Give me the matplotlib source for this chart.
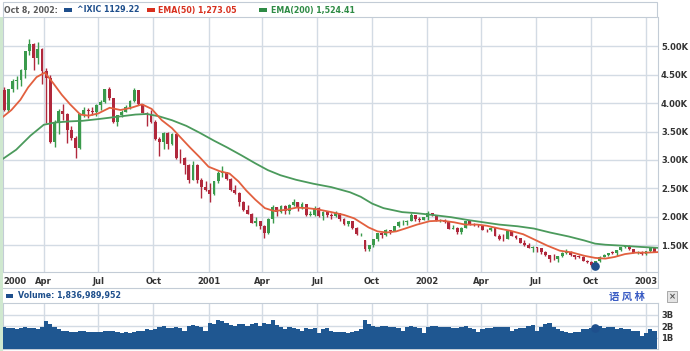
import matplotlib
matplotlib.use("Agg")
import matplotlib.pyplot as plt
import matplotlib.dates as mdates
import pandas as pd
from matplotlib.patches import Rectangle
from matplotlib.lines import Line2D

# ---------------- data (weekly, week ending Friday, starting 2000-01-28) ----------------
week_open = [
    4235, 3887, 4244, 4395, 4411, 4590, 4914, 5048, 4798, 4963, 4573, 4446, 3321, 3643, 3860, 3817, 3529, 3390, 3205, 3813,
    3874, 3860, 3845, 3966, 4023, 4246, 4095, 3663, 3787, 3851, 3930, 4042, 4234, 3979, 3835, 3803, 3673, 3361, 3316, 3483,
    3278, 3451, 3028, 3027, 2904, 2645, 2917, 2653, 2518,
    2471, 2407, 2626, 2770, 2781, 2660, 2470, 2425, 2262, 2117, 2052, 1891, 1928, 1840, 1720, 1961, 2163, 2075, 2192, 2107,
    2199, 2251, 2149, 2215, 2028, 2034, 2161, 2004, 2084, 2029, 2015, 2066, 1956, 1867, 1916, 1805, 1687, 1580, 1423, 1499,
    1605, 1703, 1671, 1768, 1746, 1828, 1898, 1903, 1930, 2021, 1953, 1945,
    1987, 2059, 2022, 1930, 1937, 1911, 1782, 1805, 1724, 1802, 1929, 1868, 1852, 1845, 1770, 1756, 1796, 1663, 1613, 1600,
    1741, 1661, 1615, 1535, 1504, 1441, 1463, 1448, 1373, 1319, 1262, 1247, 1306, 1362, 1380, 1315, 1295, 1291, 1221, 1199,
    1139, 1210, 1287, 1331, 1361, 1359, 1411, 1468, 1479, 1422, 1362, 1363,
    1348, 1387, 1448]
week_high = [
    4290, 4250, 4430, 4480, 4600, 4920, 5132, 5060, 5080, 4970, 4620, 4490, 3700, 3900, 3980, 3830, 3600, 3420, 3830, 3930,
    3920, 3940, 3990, 4050, 4250, 4290, 4100, 3800, 3880, 3960, 4060, 4260, 4240, 3990, 3850, 3880, 3700, 3400, 3500, 3500,
    3480, 3460, 3200, 3050, 2920, 2980, 2930, 2680, 2620,
    2600, 2630, 2800, 2892, 2790, 2690, 2560, 2430, 2270, 2200, 2060, 1990, 1930, 1850, 1970, 2200, 2170, 2200, 2200, 2220,
    2313, 2260, 2260, 2220, 2100, 2180, 2170, 2100, 2100, 2060, 2100, 2070, 1970, 1920, 1920, 1820, 1710, 1580, 1500, 1610,
    1710, 1720, 1780, 1770, 1840, 1920, 1940, 1940, 2060, 2030, 1990, 2000,
    2098, 2070, 2030, 1960, 1960, 1915, 1860, 1810, 1810, 1930, 1930, 1890, 1870, 1850, 1790, 1810, 1800, 1700, 1700, 1750,
    1750, 1670, 1620, 1580, 1530, 1480, 1470, 1450, 1400, 1320, 1340, 1310, 1370, 1426, 1390, 1330, 1330, 1300, 1240, 1220,
    1220, 1300, 1340, 1365, 1400, 1420, 1470, 1490, 1492, 1430, 1400, 1390,
    1400, 1450, 1450]
week_low = [
    3870, 3850, 4200, 4250, 4300, 4450, 4850, 4580, 4700, 4340, 3650, 3300, 3227, 3450, 3700, 3300, 3350, 3042, 3200, 3750,
    3740, 3800, 3780, 3880, 4000, 4050, 3650, 3600, 3750, 3840, 3900, 4030, 3970, 3820, 3600, 3650, 3350, 3070, 3200, 3190,
    3260, 3020, 2950, 2750, 2600, 2640, 2600, 2330, 2460,
    2250, 2380, 2600, 2700, 2640, 2460, 2400, 2180, 2100, 2040, 1880, 1830, 1780, 1619, 1700, 1880, 2020, 2060, 2050, 2040,
    2180, 2100, 2140, 2010, 2010, 2020, 2000, 1940, 1990, 1960, 2000, 1930, 1860, 1830, 1790, 1680, 1660, 1387, 1400, 1460,
    1570, 1630, 1650, 1700, 1740, 1820, 1850, 1850, 1920, 1930, 1900, 1940,
    1940, 2010, 1920, 1900, 1880, 1780, 1780, 1700, 1700, 1800, 1850, 1840, 1810, 1760, 1730, 1740, 1660, 1590, 1570, 1600,
    1650, 1600, 1530, 1480, 1440, 1375, 1380, 1340, 1310, 1192, 1240, 1200, 1280, 1350, 1310, 1260, 1270, 1220, 1180, 1135,
    1108, 1200, 1280, 1300, 1340, 1310, 1400, 1440, 1410, 1360, 1350, 1330,
    1320, 1380, 1370]
week_close = [
    3887, 4244, 4395, 4411, 4590, 4914, 5048, 4798, 4963, 4573, 4446, 3321, 3643, 3860, 3817, 3529, 3390, 3205, 3813, 3874,
    3860, 3845, 3966, 4023, 4246, 4095, 3663, 3787, 3851, 3930, 4042, 4234, 3979, 3835, 3803, 3673, 3361, 3316, 3483, 3278,
    3451, 3028, 3027, 2904, 2645, 2917, 2653, 2518, 2471,
    2407, 2626, 2770, 2781, 2660, 2470, 2425, 2262, 2117, 2052, 1891, 1928, 1840, 1720, 1961, 2163, 2075, 2192, 2107, 2199,
    2251, 2149, 2215, 2028, 2034, 2161, 2004, 2084, 2029, 2015, 2066, 1956, 1867, 1916, 1805, 1687, 1695, 1423, 1499, 1605,
    1703, 1671, 1768, 1746, 1828, 1898, 1903, 1930, 2021, 1953, 1945, 1987,
    2059, 2022, 1930, 1937, 1911, 1782, 1805, 1724, 1802, 1929, 1868, 1852, 1845, 1770, 1756, 1796, 1663, 1613, 1600, 1741,
    1661, 1615, 1535, 1504, 1441, 1463, 1448, 1373, 1319, 1262, 1247, 1306, 1362, 1380, 1315, 1295, 1291, 1221, 1199, 1139,
    1210, 1287, 1331, 1361, 1359, 1411, 1468, 1479, 1422, 1362, 1363, 1348,
    1387, 1448, 1376]
week_volume_b = [
    1.9, 1.8, 1.85, 1.75, 1.8, 1.9, 1.85, 1.8, 1.7, 1.9, 2.4, 2.2, 1.9, 1.7, 1.6, 1.55, 1.5, 1.45, 1.6, 1.55,
    1.5, 1.45, 1.5, 1.45, 1.55, 1.6, 1.55, 1.5, 1.4, 1.45, 1.4, 1.5, 1.55, 1.6, 1.7, 1.65, 1.7, 1.9, 2.0, 1.85,
    1.8, 1.9, 1.85, 1.6, 2.0, 2.1, 2.0, 1.9, 1.6,
    2.3, 2.2, 2.5, 2.4, 2.3, 2.1, 2.0, 2.2, 2.2, 2.0, 2.2, 2.3, 2.0, 2.3, 2.2, 2.5, 2.1, 1.9, 1.7, 1.9,
    1.8, 1.7, 1.6, 1.8, 1.7, 1.8, 1.4, 1.7, 1.8, 1.6, 1.5, 1.45, 1.5, 1.4, 1.5, 1.6, 1.7, 2.5, 2.2, 2.0,
    1.9, 2.0, 2.0, 1.9, 1.9, 1.8, 1.6, 1.9, 2.0, 1.9, 1.8, 1.4,
    1.9, 2.0, 2.0, 1.9, 1.9, 1.9, 1.8, 1.8, 1.9, 2.0, 1.8, 1.7, 1.5, 1.7, 1.8, 1.8, 1.9, 1.9, 1.9, 1.9,
    1.6, 1.7, 1.8, 1.8, 2.0, 2.1, 1.6, 1.9, 2.2, 2.3, 1.9, 1.7, 1.6, 1.5, 1.4, 1.5, 1.5, 1.7, 1.7, 1.8,
    2.0, 2.0, 1.8, 1.9, 1.9, 1.7, 1.8, 1.7, 1.7, 1.6, 1.6, 1.1,
    1.4, 1.7, 1.6]

ema50_dates = ["2000-01-24", "2000-02-07", "2000-02-22", "2000-03-06", "2000-03-20", "2000-04-03", "2000-04-17",
               "2000-05-01", "2000-05-15", "2000-06-01", "2000-06-15", "2000-07-01", "2000-07-20", "2000-08-07",
               "2000-08-25", "2000-09-12", "2000-09-28", "2000-10-15", "2000-11-01", "2000-11-15", "2000-12-01",
               "2000-12-17", "2001-01-01", "2001-01-20", "2001-02-05", "2001-02-20", "2001-03-05", "2001-03-20",
               "2001-04-05", "2001-04-20", "2001-05-10", "2001-05-28", "2001-06-15", "2001-07-01", "2001-07-25",
               "2001-08-15", "2001-09-01", "2001-09-25", "2001-10-10", "2001-10-25", "2001-11-10", "2001-11-25",
               "2001-12-15", "2002-01-05", "2002-01-25", "2002-02-15", "2002-03-05", "2002-03-25", "2002-04-10",
               "2002-05-01", "2002-05-20", "2002-06-10", "2002-06-28", "2002-07-20", "2002-08-10", "2002-08-30",
               "2002-09-20", "2002-10-08", "2002-10-25", "2002-11-10", "2002-11-27", "2002-12-15", "2003-01-01",
               "2003-01-21"]
ema50_vals = [3760, 3880, 4060, 4280, 4460, 4540, 4350, 4150, 3980, 3800, 3780, 3820, 3920, 3880, 3920, 3980, 3900,
              3700, 3560, 3400, 3220, 3050, 2880, 2800, 2760, 2620, 2460, 2300, 2150, 2100, 2120, 2160, 2150, 2130,
              2080, 2030, 1970, 1810, 1740, 1720, 1740, 1790, 1860, 1920, 1930, 1900, 1860, 1860, 1840, 1790, 1750,
              1690, 1600, 1490, 1400, 1370, 1310, 1273, 1260, 1290, 1340, 1365, 1365, 1375]

ema200_dates = ["2000-01-24", "2000-02-15", "2000-03-10", "2000-04-01", "2000-04-20", "2000-05-15", "2000-06-05",
                "2000-07-01", "2000-08-01", "2000-09-01", "2000-09-20", "2000-10-10", "2000-11-01", "2000-11-25",
                "2000-12-17", "2001-01-10", "2001-02-01", "2001-02-25", "2001-03-20", "2001-04-10", "2001-05-01",
                "2001-05-27", "2001-06-25", "2001-07-25", "2001-08-25", "2001-09-12", "2001-10-01", "2001-10-20",
                "2001-11-20", "2001-12-15", "2002-01-10", "2002-02-10", "2002-03-10", "2002-04-05", "2002-05-01",
                "2002-06-01", "2002-06-28", "2002-07-25", "2002-08-25", "2002-09-20", "2002-10-08", "2002-10-25",
                "2002-11-27", "2002-12-25", "2003-01-21"]
ema200_vals = [3020, 3180, 3430, 3620, 3660, 3680, 3690, 3720, 3760, 3800, 3810, 3770, 3700, 3600, 3480, 3340, 3220,
               3080, 2940, 2820, 2730, 2650, 2580, 2520, 2430, 2350, 2230, 2150, 2080, 2060, 2030, 1990, 1940, 1900,
               1860, 1830, 1790, 1720, 1650, 1580, 1524, 1505, 1485, 1465, 1450]

tick_dates = ["2000-04-01", "2000-07-01", "2000-10-01", "2001-01-01", "2001-04-01", "2001-07-01", "2001-10-01",
              "2002-01-01", "2002-04-01", "2002-07-01", "2002-10-01", "2003-01-01"]
tick_labels = ["Apr", "Jul", "Oct", "2001", "Apr", "Jul", "Oct", "2002", "Apr", "Jul", "Oct", "2003"]
price_ticks = [1500, 2000, 2500, 3000, 3500, 4000, 4500, 5000]
price_tick_labels = ["1.50K", "2.00K", "2.50K", "3.00K", "3.50K", "4.00K", "4.50K", "5.00K"]
vol_ticks = [1, 2, 3]
vol_tick_labels = ["1B", "2B", "3B"]

hover_date = "2002-10-08"
hover_close = 1129.22
hover_volume_b = 1.836989952

# ---------------- figure ----------------
W, H = 690, 351
fig = plt.figure(figsize=(W / 100, H / 100), dpi=100)
fig.patch.set_facecolor("white")


def fx(x):
    return x / W


def fy(y):
    return 1 - y / H


GRID = "#d3dbe4"
EDGE = "#c3ccd6"
LABEL = "#333333"
BLUE = "#1f5791"
UP = "#3a9a4c"
DOWN = "#b0283c"

x0, x1 = 3, 658
ax = fig.add_axes([fx(x0), fy(272), fx(x1) - fx(x0), fy(17) - fy(272)])
axv = fig.add_axes([fx(x0), fy(349), fx(x1) - fx(x0), fy(303) - fy(349)])

xmin = mdates.date2num(pd.Timestamp("2000-01-24"))
xmax = mdates.date2num(pd.Timestamp("2003-01-21"))
week_end = pd.date_range("2000-01-28", periods=len(week_close), freq="W-FRI")
xc = mdates.date2num(week_end - pd.Timedelta(days=2))
tick_x = mdates.date2num(pd.to_datetime(tick_dates))

# candles
colors = [UP if c >= o else DOWN for o, c in zip(week_open, week_close)]
ax.vlines(xc, week_low, week_high, colors=colors, linewidth=1.0, zorder=3)
bottoms = [min(o, c) for o, c in zip(week_open, week_close)]
heights = [max(abs(c - o), 10) for o, c in zip(week_open, week_close)]
ax.bar(xc, heights, bottom=bottoms, width=4.8, color=colors, linewidth=0, zorder=3)

# EMAs
ax.plot(mdates.date2num(pd.to_datetime(ema200_dates)), ema200_vals, color="#4b9a5c", lw=1.3, zorder=4)
ax.plot(mdates.date2num(pd.to_datetime(ema50_dates)), ema50_vals, color="#e2603f", lw=1.3, zorder=5)
hx = mdates.date2num(pd.Timestamp(hover_date))
ax.plot([hx], [hover_close], "o", color="#1e4f8c", ms=5.2, zorder=6)

ax.set_xlim(xmin, xmax)
ax.set_ylim(1024, 5520)
ax.set_xticks(tick_x)
ax.set_xticklabels(tick_labels)
ax.set_yticks(price_ticks)
ax.set_yticklabels(price_tick_labels)
ax.yaxis.tick_right()
ax.tick_params(axis="x", length=0, pad=3.6, labelsize=6, labelcolor=LABEL)
ax.tick_params(axis="y", length=0, pad=2.2, labelsize=6, labelcolor=LABEL)
for lab in ax.get_xticklabels() + ax.get_yticklabels():
    lab.set_fontweight("bold")
ax.grid(True, color=GRID, lw=1.0, zorder=0)
ax.set_axisbelow(True)
for s in ["left", "right", "bottom"]:
    ax.spines[s].set_color(EDGE)
    ax.spines[s].set_linewidth(0.8)
ax.spines["top"].set_visible(False)

# volume
axv.bar(xc, week_volume_b, width=7.0, color=BLUE, linewidth=0, zorder=3)
axv.plot([hx], [hover_volume_b], "o", color="#1e4f8c", ms=5.2, zorder=6)
axv.set_xlim(xmin, xmax)
axv.set_ylim(0, 4.0)
axv.set_xticks(tick_x)
axv.set_xticklabels([])
axv.set_yticks(vol_ticks)
axv.set_yticklabels(vol_tick_labels)
axv.yaxis.tick_right()
axv.tick_params(axis="x", length=0)
axv.tick_params(axis="y", length=0, pad=2.2, labelsize=6, labelcolor=LABEL)
for lab in axv.get_yticklabels():
    lab.set_fontweight("bold")
axv.grid(True, color=GRID, lw=1.0, zorder=0)
axv.set_axisbelow(True)
for s in axv.spines.values():
    s.set_color(EDGE)
    s.set_linewidth(0.8)

# "2000" label at left edge
fig.text(fx(3.5), fy(281.5), "2000", ha="left", va="center", fontsize=6, fontweight="bold", color=LABEL)

# separators
fig.add_artist(Line2D([fx(x0), fx(x1)], [fy(288), fy(288)], color=EDGE, lw=0.8))
fig.add_artist(Line2D([fx(x1), fx(x1)], [fy(272), fy(288)], color=EDGE, lw=0.8))
# light green strip on the left
fig.add_artist(Rectangle((0, 0), fx(2.5), fy(17), transform=fig.transFigure, color="#cfe8cf", lw=0))

# header box
fig.add_artist(Rectangle((fx(3), fy(17)), fx(657) - fx(3), fy(2) - fy(17), transform=fig.transFigure,
                         facecolor="white", edgecolor=EDGE, lw=0.8))
ty = fy(10)
HF = 5.7
fig.text(fx(4.5), ty, "Oct 8, 2002:", ha="left", va="center", fontsize=HF, fontweight="bold", color="#5a5a5a")
fig.add_artist(Rectangle((fx(64), fy(12)), fx(8), fy(8) - fy(12), transform=fig.transFigure, color="#1e4f8c", lw=0))
fig.text(fx(77), ty, "^IXIC 1129.22", ha="left", va="center", fontsize=HF, fontweight="bold", color="#1e4f8c")
fig.add_artist(Rectangle((fx(147), fy(12)), fx(8), fy(8) - fy(12), transform=fig.transFigure, color="#d8301e", lw=0))
fig.text(fx(158), ty, "EMA(50) 1,273.05", ha="left", va="center", fontsize=HF, fontweight="bold", color="#d8301e")
fig.add_artist(Rectangle((fx(259), fy(12)), fx(8), fy(8) - fy(12), transform=fig.transFigure, color="#2e8b45", lw=0))
fig.text(fx(271), ty, "EMA(200) 1,524.41", ha="left", va="center", fontsize=HF, fontweight="bold", color="#2e8b45")

# volume header
fig.add_artist(Rectangle((fx(6), fy(297.5)), fx(7), fy(293.5) - fy(297.5), transform=fig.transFigure,
                         color="#1e4f8c", lw=0))
fig.text(fx(18), fy(295.5), "Volume: 1,836,989,952", ha="left", va="center", fontsize=HF, fontweight="bold",
         color="#1e4f8c")
fig.text(fx(627), fy(297), "语 风 林", ha="center", va="center", fontsize=7.5, fontweight="bold",
         color="#3a5cc4", family=["Noto Sans CJK SC", "DejaVu Sans"])
fig.add_artist(Rectangle((fx(667), fy(302)), fx(10), fy(291) - fy(302), transform=fig.transFigure,
                         facecolor="#e4e4e4", edgecolor="#a8a8a8", lw=0.7))
fig.text(fx(672), fy(296.5), "×", ha="center", va="center", fontsize=6, fontweight="bold", color="#555555")

fig.savefig("out.png", dpi=100)
